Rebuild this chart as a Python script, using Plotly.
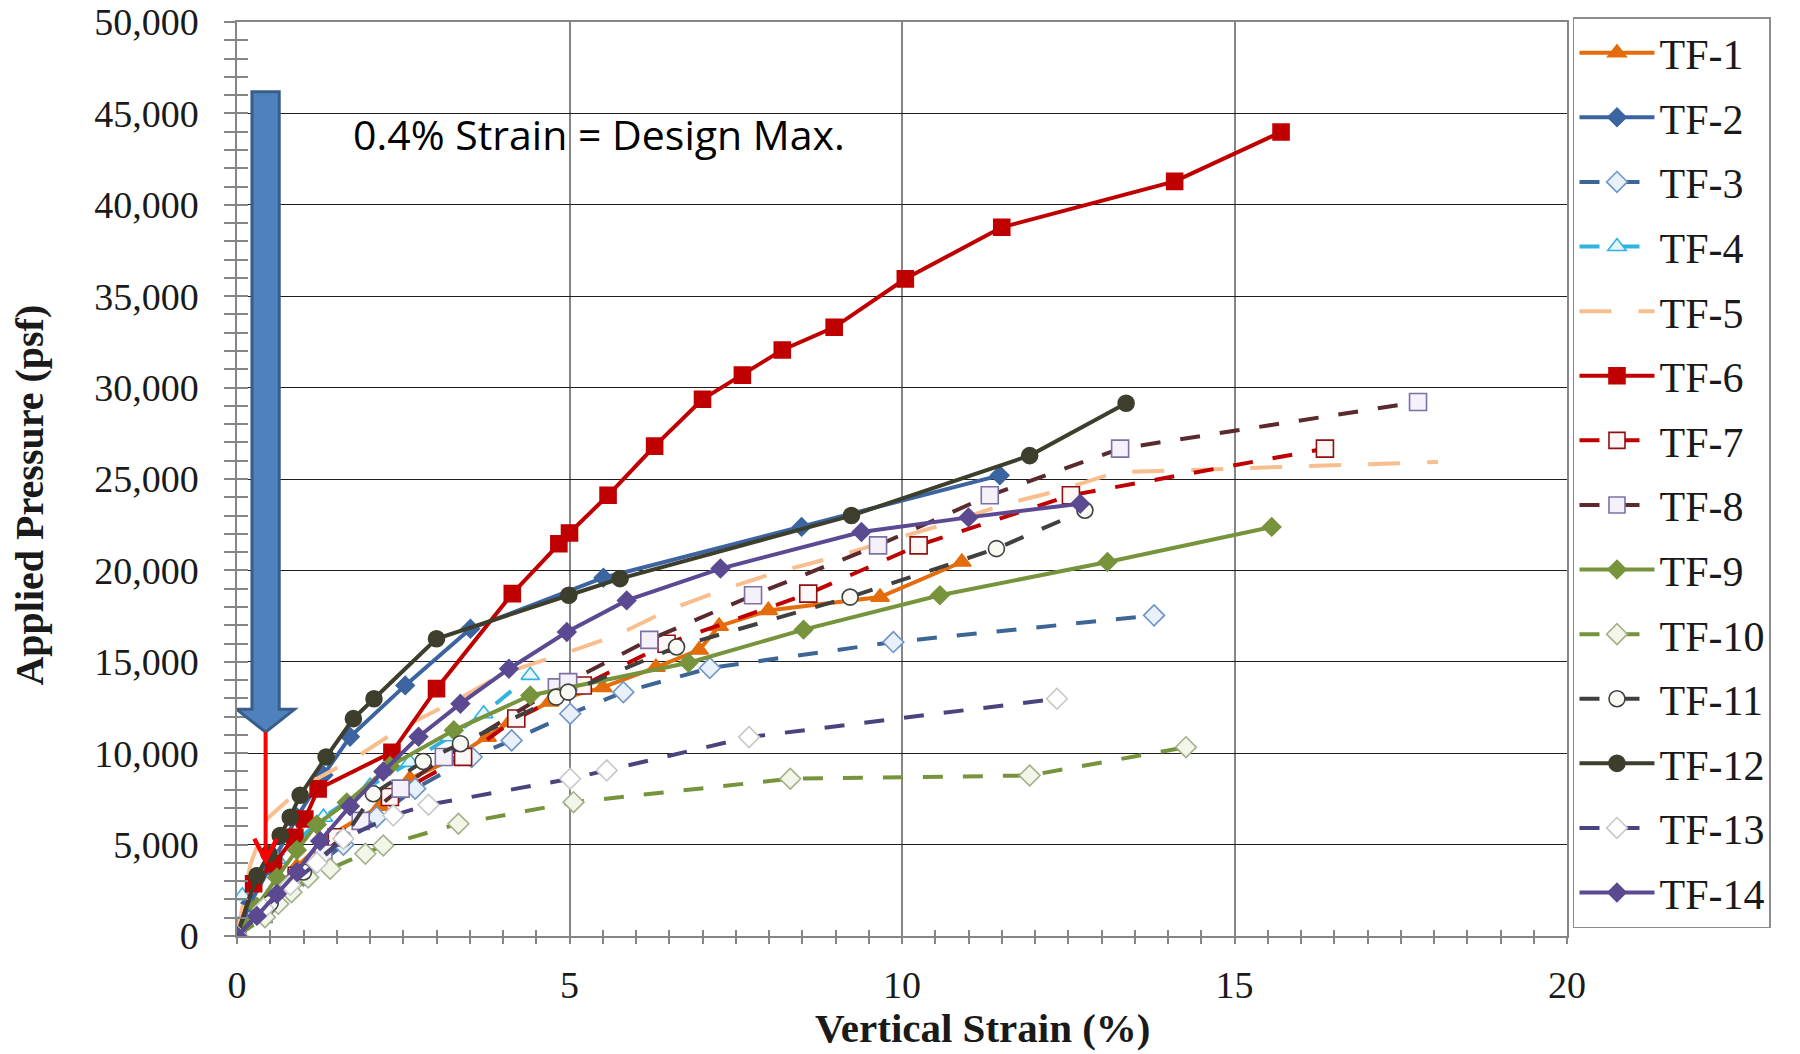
import plotly.graph_objects as go

# ---------------- data ----------------
series_names = ["TF-1", "TF-2", "TF-3", "TF-4", "TF-5", "TF-6", "TF-7",
                "TF-8", "TF-9", "TF-10", "TF-11", "TF-12", "TF-13", "TF-14"]

tf1_x = [0, 0.4, 0.9, 1.4, 2.15, 2.6, 3.2, 3.76, 4.1, 4.7, 5.5, 6.3, 6.95, 7.25, 7.99, 9.67, 10.9]
tf1_y = [0, 1800, 3800, 5500, 7100, 8600, 9600, 10880, 11700, 12800, 13600, 14700, 15650, 16950, 17810, 18540, 20460]

tf2_x = [0, 0.2, 0.5, 0.9, 1.3, 1.7, 2.53, 3.51, 5.51, 8.49, 11.47]
tf2_y = [0, 1800, 3800, 6500, 8800, 10900, 13710, 16810, 19600, 22380, 25200]

tf3_x = [0, 0.5, 1.0, 1.6, 2.1, 2.68, 3.53, 4.13, 5.01, 5.81, 7.11, 9.87, 13.79]
tf3_y = [0, 1700, 3300, 5000, 6500, 8060, 9790, 10700, 12160, 13340, 14660, 16080, 17540]

tf4_x = [0, 0.08, 0.6, 1.3, 2.0, 2.6, 3.2, 3.71, 4.41]
tf4_y = [0, 2200, 4200, 6500, 8200, 9500, 10900, 12160, 14260]

tf5_x = [0, 0.2, 0.45, 1.0, 1.8, 2.45, 3.3, 4.0, 4.91, 5.71, 6.5, 7.31, 8.12, 8.99, 9.82,
         10.67, 11.57, 12.38, 13.23, 14.5, 16.0, 18.06]
tf5_y = [0, 3900, 6400, 8200, 9790, 11340, 12890, 14350, 15440, 16450, 17850, 18950, 19910,
         20730, 21650, 22560, 23650, 24380, 25380, 25500, 25700, 25930]

tf6_x = [0, 0.25, 0.55, 0.87, 1.02, 1.22, 2.33, 3.0, 4.14, 4.84, 5.0, 5.58, 6.28, 7.0, 7.6,
         8.2, 8.98, 10.05, 11.5, 14.1, 15.7]
tf6_y = [0, 2860, 3950, 5400, 6400, 8050, 10050, 13530, 18730, 21460, 22050, 24110, 26800,
         29360, 30680, 32060, 33300, 35950, 38770, 41280, 43980]

tf7_x = [0, 0.4, 0.9, 1.5, 2.3, 3.4, 4.2, 5.2, 6.46, 8.59, 10.25, 12.54, 16.36]
tf7_y = [0, 1500, 3300, 5400, 7600, 9800, 11900, 13700, 15990, 18730, 21370, 24110, 26660]

tf8_x = [0, 0.4, 0.8, 1.3, 1.86, 2.46, 3.11, 4.81, 4.98, 6.2, 7.76, 9.64, 11.32, 13.28, 17.76]
tf8_y = [0, 1200, 2800, 4500, 6300, 8060, 9790, 13600, 13890, 16200, 18640, 21370, 24110, 26660, 29210]

tf9_x = [0, 0.3, 0.6, 0.9, 1.2, 1.65, 2.3, 3.26, 4.41, 6.79, 8.52, 10.57, 13.09, 15.56]
tf9_y = [0, 1600, 3200, 4700, 6100, 7300, 9300, 11250, 13160, 14950, 16760, 18640, 20460, 22380]

tf10_x = [0, 0.42, 0.62, 0.82, 1.07, 1.4, 1.93, 2.2, 3.33, 5.06, 8.32, 11.92, 14.27]
tf10_y = [0, 1030, 1760, 2400, 3200, 3680, 4500, 4950, 6140, 7320, 8600, 8780, 10330]

tf11_x = [0, 0.5, 1.0, 1.6, 2.05, 2.8, 3.36, 4.8, 4.98, 6.61, 9.22, 11.42, 12.75]
tf11_y = [0, 1800, 3500, 5320, 7780, 9550, 10520, 13070, 13340, 15810, 18540, 21190, 23290]

tf12_x = [0, 0.3, 0.48, 0.65, 0.8, 0.95, 1.34, 1.75, 2.06, 3.0, 4.99, 5.76, 9.24, 11.92, 13.37]
tf12_y = [0, 3300, 4500, 5500, 6500, 7700, 9790, 11890, 12980, 16260, 18640, 19550, 23000, 26280, 29140]

tf13_x = [0, 0.4, 0.8, 1.2, 1.6, 2.35, 2.88, 5.01, 5.56, 7.7, 12.33]
tf13_y = [0, 1500, 2800, 4000, 5320, 6600, 7180, 8600, 9060, 10880, 12980]

tf14_x = [0, 0.3, 0.6, 0.9, 1.25, 1.7, 2.2, 2.73, 3.36, 4.09, 4.96, 5.86, 7.27, 9.39, 11.0, 12.68]
tf14_y = [0, 1100, 2300, 3500, 5200, 7100, 9000, 10900, 12710, 14620, 16630, 18360, 20100, 22100, 22900, 23650]

xs = [tf1_x, tf2_x, tf3_x, tf4_x, tf5_x, tf6_x, tf7_x, tf8_x, tf9_x, tf10_x, tf11_x, tf12_x, tf13_x, tf14_x]
ys = [tf1_y, tf2_y, tf3_y, tf4_y, tf5_y, tf6_y, tf7_y, tf8_y, tf9_y, tf10_y, tf11_y, tf12_y, tf13_y, tf14_y]

x_ticks = [0, 5, 10, 15, 20]
y_ticks = [0, 5000, 10000, 15000, 20000, 25000, 30000, 35000, 40000, 45000, 50000]

annotation_text = "0.4% Strain = Design Max."
design_strain = 0.43   # centre of the arrows (% strain)

# ---------------- styles ----------------
DASH = "20px,20px"
styles = [
    # color, dash, symbol, marker fill, marker edge, size
    ("#E46C0A", "solid", "triangle-up", "#E46C0A", "#E46C0A", 16),
    ("#3B64A0", "solid", "diamond", "#3B64A0", "#3B64A0", 14),
    ("#3D6596", DASH, "diamond", "#E8F0FA", "#6F95C6", 16),
    ("#31B3E2", DASH, "triangle-up", "#E6F6FC", "#31B3E2", 16),
    ("#F8BE8E", "32px,27px", None, None, None, 0),
    ("#C00000", "solid", "square", "#C00000", "#C00000", 16),
    ("#C00000", DASH, "square", "#FFF6F6", "#8E1010", 17),
    ("#5A2A2E", DASH, "square", "#F4F1FA", "#7E70A6", 17),
    ("#77933C", "solid", "diamond", "#77933C", "#77933C", 14),
    ("#77933C", DASH, "diamond", "#F2F6E8", "#A2B08A", 16),
    ("#404040", DASH, "circle", "#FAFAF5", "#404040", 16),
    ("#3E3E2C", "solid", "circle", "#3E3E2C", "#3E3E2C", 16),
    ("#4A447E", DASH, "diamond", "#FFFFFF", "#C8C8C8", 16),
    ("#5B4A91", "solid", "diamond", "#5B4A91", "#5B4A91", 14),
]

fig = go.Figure()
for name, x, y, st in zip(series_names, xs, ys, styles):
    color, dash, symbol, mfill, medge, msize = st
    if symbol is None:
        mode = "lines"
        marker = None
    else:
        mode = "lines+markers"
        marker = dict(symbol=symbol, size=msize, color=mfill,
                      line=dict(color=medge, width=1.6))
    fig.add_trace(go.Scatter(
        x=x, y=y, name=name, mode=mode, legendgroup=name,
        line=dict(color=color, width=4, dash=dash),
        marker=marker,
    ))

# invisible traces so that the overlay axes (inside half of crossing ticks) are drawn
fig.add_trace(go.Scatter(x=[None], y=[None], xaxis="x2", yaxis="y", showlegend=False, hoverinfo="skip"))
fig.add_trace(go.Scatter(x=[None], y=[None], xaxis="x", yaxis="y2", showlegend=False, hoverinfo="skip"))

GREY = "#868686"
TICKFONT = dict(family="Liberation Serif", size=38, color="#1a1a1a")

# the page body adds an 8px margin, so the figure is 8px smaller each way
fig.update_layout(
    width=1792, height=1046,
    margin=dict(l=229, r=233, t=14, b=118, autoexpand=False),
    paper_bgcolor="white", plot_bgcolor="white",
    showlegend=True,
    legend=dict(
        x=1.0045, y=1.005, xanchor="left", yanchor="top",
        font=dict(family="Liberation Serif", size=42, color="#1a1a1a"),
        bordercolor="#8c8c8c", borderwidth=1.5, bgcolor="white",
        itemwidth=75, tracegroupgap=7, traceorder="grouped",
        maxheight=1000,
    ),
    xaxis=dict(
        range=[0, 20], tickmode="array", tickvals=x_ticks,
        ticks="outside", ticklen=6, tickwidth=1.5, tickcolor=GREY,
        minor=dict(dtick=0.5, tick0=0, ticks="outside", ticklen=6, tickwidth=1.5,
                   tickcolor=GREY, showgrid=False),
        showgrid=True, gridcolor=GREY, gridwidth=1.5,
        showline=True, linecolor=GREY, linewidth=1.5, mirror=True,
        zeroline=False, tickfont=TICKFONT, ticklabelstandoff=9,
        ticklabeloverflow="allow",
    ),
    xaxis2=dict(
        range=[0, 20], overlaying="x", anchor="y", side="bottom",
        tickmode="linear", tick0=0, dtick=0.5,
        ticks="inside", ticklen=6, tickwidth=1.5, tickcolor=GREY,
        showticklabels=False, showgrid=False, showline=False, zeroline=False,
    ),
    yaxis=dict(
        range=[0, 50000], tickmode="array", tickvals=y_ticks, tickformat=",d",
        ticks="outside", ticklen=11, tickwidth=1.5, tickcolor=GREY,
        minor=dict(dtick=1000, tick0=0, ticks="outside", ticklen=11, tickwidth=1.5,
                   tickcolor=GREY, showgrid=False),
        showgrid=True, gridcolor="#1e1e1e", gridwidth=1.4,
        showline=True, linecolor=GREY, linewidth=1.5, mirror=True,
        zeroline=False, tickfont=TICKFONT, ticklabelstandoff=18,
        ticklabeloverflow="allow",
    ),
    yaxis2=dict(
        range=[0, 50000], overlaying="y", anchor="x", side="left",
        tickmode="linear", tick0=0, dtick=1000,
        ticks="inside", ticklen=11, tickwidth=1.5, tickcolor=GREY,
        showticklabels=False, showgrid=False, showline=False, zeroline=False,
    ),
)

# axis titles as annotations (positioned like the reference)
fig.add_annotation(text="<b>Vertical Strain (%)</b>", xref="paper", yref="paper",
                   x=0.561, y=-0.128, xanchor="center", yanchor="bottom", showarrow=False,
                   font=dict(family="Liberation Serif", size=41, color="#1a1a1a"))
fig.add_annotation(text="<b>Applied Pressure (psf)</b>", xref="paper", yref="paper",
                   x=-0.156, y=0.4825, xanchor="center", yanchor="middle", showarrow=False,
                   textangle=-90,
                   font=dict(family="Liberation Serif", size=40, color="#1a1a1a"))

# callout text
fig.add_annotation(text=annotation_text, xref="x", yref="y", x=1.72, y=43870,
                   xanchor="left", yanchor="middle", showarrow=False,
                   font=dict(family="Open Sans", size=41, color="black"))

# big blue block arrow (shaft 0.22-0.63 %, head 0-0.87 %)
c = design_strain
shaft_half, head_half = 0.205, 0.435
top_y, base_y, tip_y = 46180, 12400, 11150
arrow_path = (f"M {c-shaft_half},{top_y} L {c+shaft_half},{top_y} L {c+shaft_half},{base_y} "
              f"L {c+head_half},{base_y} L {c},{tip_y} L {c-head_half},{base_y} "
              f"L {c-shaft_half},{base_y} Z")
fig.add_shape(type="path", path=arrow_path, xref="x", yref="y",
              fillcolor="#4F81BD", line=dict(color="#385D8A", width=3), layer="above")

# red arrow down to 0.4 % strain
red_tip_y, red_arm_y, red_arm_dx = 4150, 5320, 0.17
fig.add_shape(type="line", xref="x", yref="y", x0=c, x1=c, y0=tip_y, y1=red_tip_y,
              line=dict(color="#FF0000", width=4), layer="above")
fig.add_shape(type="path", xref="x", yref="y",
              path=f"M {c-red_arm_dx},{red_arm_y} L {c},{red_tip_y} L {c+red_arm_dx},{red_arm_y}",
              line=dict(color="#FF0000", width=4.5), layer="above")

fig.write_html("out.html")
